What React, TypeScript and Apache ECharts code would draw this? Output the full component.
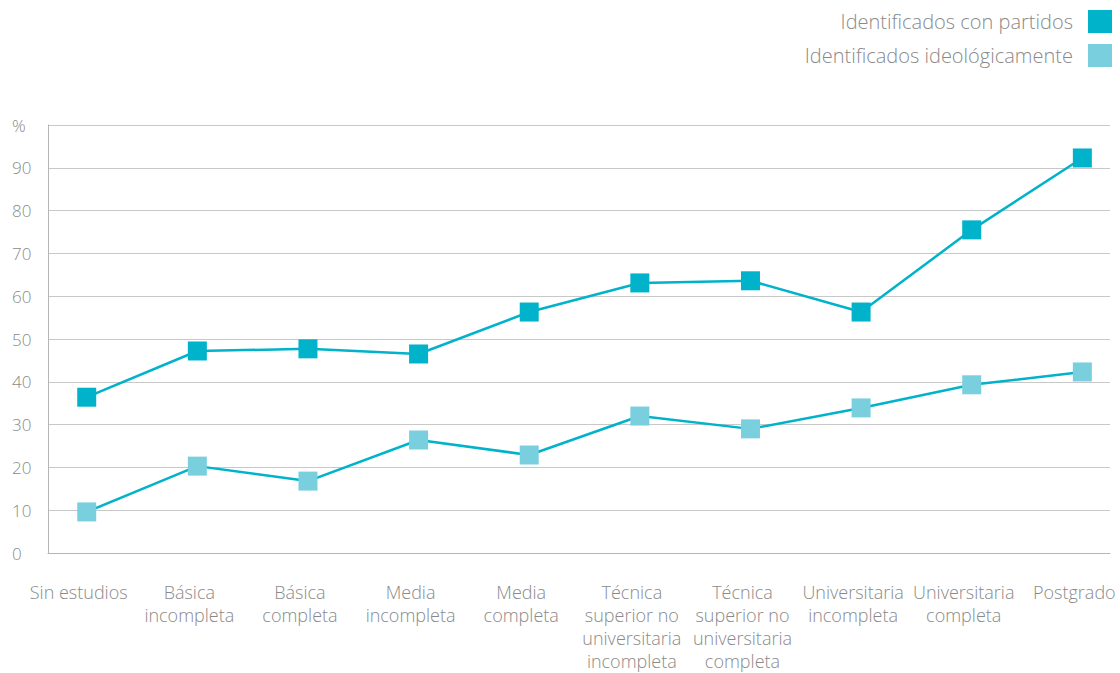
import React, { useEffect, useRef } from "react";
import * as echarts from "echarts";

const categories = [
  "Sin estudios",
  "Básica\nincompleta",
  "Básica\ncompleta",
  "Media\nincompleta",
  "Media\ncompleta",
  "Técnica\nsuperior no\nuniversitaria\nincompleta",
  "Técnica\nsuperior no\nuniversitaria\ncompleta",
  "Universitaria\nincompleta",
  "Universitaria\ncompleta",
  "Postgrado",
];
const partidos = [36.4, 47.2, 47.7, 46.5, 56.3, 63.1, 63.6, 56.3, 75.5, 92.3];
const ideologia = [9.6, 20.3, 16.8, 26.4, 22.9, 32.0, 29.0, 33.9, 39.3, 42.3];
const seriesNames = ["Identificados con partidos", "Identificados ideológicamente"];

const FONT = "'Open Sans', sans-serif";
const TEXT = "#8a8a8a";

export default function App() {
  const ref = useRef<HTMLDivElement>(null);
  useEffect(() => {
    if (!ref.current) return;
    const chart = echarts.init(ref.current, undefined, { renderer: "svg" });
    chart.setOption({
      animation: false,
      textStyle: { fontFamily: FONT },
      legend: {
        orient: "vertical",
        right: 3,
        top: 5,
        align: "right",
        itemWidth: 24,
        itemHeight: 23,
        itemGap: 11,
        icon: "rect",
        textStyle: {
          color: TEXT,
          fontSize: 20,
          fontFamily: FONT,
          fontWeight: 300,
          padding: [0, 10, 0, 0],
        },
        data: seriesNames,
      },
      grid: { left: 48, right: 10, top: 125, bottom: 120, outerBoundsMode: "none", containLabel: false },
      xAxis: {
        type: "value",
        min: -0.35,
        max: 9.25,
        splitLine: { show: false },
        axisLine: { show: true, onZero: false, lineStyle: { color: "#b5b5b5", width: 1 } },
        axisTick: { show: false },
        axisLabel: {
          customValues: [0, 1, 2, 3, 4, 5, 6, 7, 8, 9],
          formatter: (v: number) => categories[Math.round(v)] ?? "",
          color: TEXT,
          fontSize: 18,
          lineHeight: 23,
          margin: 27,
          padding: [0, 16, 0, 0],
          fontFamily: FONT,
          fontWeight: 300,
          align: "center",
          verticalAlign: "top",
          hideOverlap: false,
        },
      },
      yAxis: {
        type: "value",
        min: 0,
        max: 100,
        interval: 10,
        axisLine: { show: true, onZero: false, lineStyle: { color: "#b5b5b5", width: 1 } },
        axisTick: { show: false },
        splitLine: { lineStyle: { color: "#c8c8c8", width: 1 } },
        axisLabel: {
          formatter: (v: number) => (v === 100 ? "%" : String(v)),
          color: TEXT,
          fontSize: 17,
          fontFamily: FONT,
          fontWeight: 300,
          align: "left",
          margin: 36,
        },
      },
      series: [
        {
          name: seriesNames[0],
          type: "line",
          data: partidos.map((v, i) => [i, v]),
          symbol: "rect",
          symbolSize: 19,
          lineStyle: { color: "#00b2ca", width: 2.5 },
          itemStyle: { color: "#00b2ca" },
        },
        {
          name: seriesNames[1],
          type: "line",
          data: ideologia.map((v, i) => [i, v]),
          symbol: "rect",
          symbolSize: 19,
          lineStyle: { color: "#00b2ca", width: 2.5 },
          itemStyle: { color: "#7acfdf" },
        },
      ],
    });
    return () => chart.dispose();
  }, []);
  return (
    <div
      ref={ref}
      style={{ position: "absolute", left: 0, top: 0, width: 1120, height: 673 }}
    />
  );
}
